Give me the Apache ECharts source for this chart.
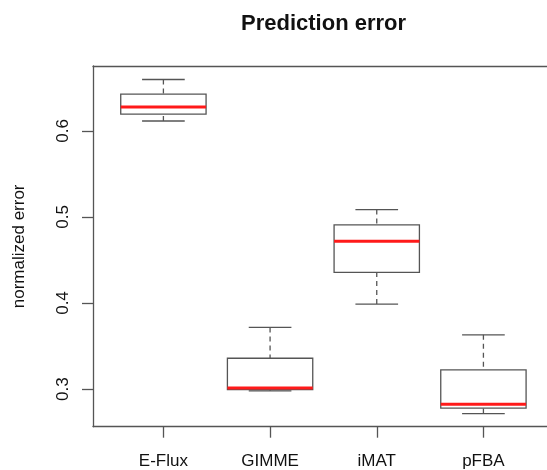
<!DOCTYPE html>
<html>
<head>
<meta charset="utf-8">
<script src="https://cdn.jsdelivr.net/npm/echarts@6/dist/echarts.min.js"></script>
<style>
  html, body { margin: 0; padding: 0; background: #fff; }
  #chart { width: 547px; height: 470px; }
</style>
</head>
<body>
<div id="chart"></div>
<script>
// ---- data ----
const categories  = ['E-Flux', 'GIMME', 'iMAT', 'pFBA'];
const whiskerLow  = [0.6114, 0.2980, 0.3988, 0.2716];
const quartile1   = [0.6195, 0.2995, 0.4355, 0.2779];
const median      = [0.6276, 0.3012, 0.4716, 0.2825];
const quartile3   = [0.6427, 0.3358, 0.4907, 0.3223];
const whiskerHigh = [0.6596, 0.3716, 0.5085, 0.3630];
const yTicks = [0.3, 0.4, 0.5, 0.6];
const xTicks = [1, 2, 3, 4];

const FONT = 'Liberation Sans, Arial, Helvetica, sans-serif';
const LINE = '#555555';
const BOX_HALF = 0.4;
const CAP_HALF = 0.2;
// visible x range: plot frame continues past the right edge of the picture
const X_MIN = 0.34, X_MAX = 4.596;

const boxData = categories.map((c, i) => [i + 1, whiskerLow[i], quartile1[i], median[i], quartile3[i], whiskerHigh[i]]);

function renderBox(params, api) {
  const x = api.value(0);
  const lo = api.value(1), q1 = api.value(2), md = api.value(3), q3 = api.value(4), hi = api.value(5);
  const tl = api.coord([x - BOX_HALF, q3]);
  const br = api.coord([x + BOX_HALF, q1]);
  const cHi = api.coord([x, hi]);
  const cQ3 = api.coord([x, q3]);
  const cQ1 = api.coord([x, q1]);
  const cLo = api.coord([x, lo]);
  const capL = api.coord([x - CAP_HALF, hi])[0];
  const capR = api.coord([x + CAP_HALF, hi])[0];
  const mL = api.coord([x - BOX_HALF, md]);
  const mR = api.coord([x + BOX_HALF, md]);
  const solid = { stroke: LINE, lineWidth: 1.3, fill: null };
  const dashed = { stroke: LINE, lineWidth: 1.3, lineDash: [5, 4] };
  return {
    type: 'group',
    children: [
      { type: 'line', shape: { x1: cHi[0], y1: cHi[1], x2: cQ3[0], y2: cQ3[1] }, style: dashed },
      { type: 'line', shape: { x1: cLo[0], y1: cLo[1], x2: cQ1[0], y2: cQ1[1] }, style: dashed },
      { type: 'line', shape: { x1: capL, y1: cHi[1], x2: capR, y2: cHi[1] }, style: solid },
      { type: 'line', shape: { x1: capL, y1: cLo[1], x2: capR, y2: cLo[1] }, style: solid },
      { type: 'rect', shape: { x: tl[0], y: tl[1], width: br[0] - tl[0], height: br[1] - tl[1] }, style: { stroke: LINE, lineWidth: 1.3, fill: '#ffffff' } },
      { type: 'line', shape: { x1: mL[0], y1: mL[1], x2: mR[0], y2: mR[1] }, style: { stroke: '#ff1a1a', lineWidth: 3 } }
    ]
  };
}

const chart = echarts.init(document.getElementById('chart'), null, { renderer: 'canvas' });
chart.setOption({
  animation: false,
  backgroundColor: '#ffffff',
  textStyle: { fontFamily: FONT },
  title: {
    text: 'Prediction error',
    left: 241,
    top: 13,
    padding: 0,
    textStyle: { fontSize: 22, fontWeight: 'bold', color: '#111', fontFamily: FONT }
  },
  grid: {
    left: 93, top: 66, right: 0, bottom: 43.3,
    show: false
  },
  xAxis: [{
    type: 'value',
    position: 'bottom',
    min: X_MIN, max: X_MAX,
    axisLine: { show: true, onZero: false, lineStyle: { color: LINE, width: 1.3 } },
    splitLine: { show: false },
    axisTick: { show: true, customValues: xTicks, length: 11, lineStyle: { color: LINE, width: 1.3 } },
    axisLabel: {
      customValues: xTicks,
      formatter: v => categories[Math.round(v) - 1],
      fontSize: 17, color: '#111', margin: 26, fontFamily: FONT
    }
  }, {
    type: 'value',
    position: 'top',
    min: X_MIN, max: X_MAX,
    axisLine: { show: true, onZero: false, lineStyle: { color: LINE, width: 1.3 } },
    splitLine: { show: false },
    axisTick: { show: false },
    axisLabel: { show: false }
  }],
  yAxis: {
    type: 'value',
    min: 0.2563, max: 0.6753,
    name: 'normalized error',
    nameLocation: 'middle',
    nameRotate: 90,
    nameGap: 65,
    nameTextStyle: { fontSize: 17, color: '#111', fontFamily: FONT },
    axisLine: { show: true, onZero: false, lineStyle: { color: LINE, width: 1.3 } },
    splitLine: { show: false },
    axisTick: { show: true, customValues: yTicks, length: 11, lineStyle: { color: LINE, width: 1.3 } },
    axisLabel: {
      customValues: yTicks,
      formatter: v => v.toFixed(1),
      rotate: 90,
      fontSize: 17, color: '#111', margin: 21, fontFamily: FONT
    }
  },
  series: [{
    type: 'custom',
    renderItem: renderBox,
    xAxisIndex: 0,
    yAxisIndex: 0,
    encode: { x: 0, y: [1, 2, 3, 4, 5] },
    data: boxData
  }]
});
</script>
</body>
</html>
